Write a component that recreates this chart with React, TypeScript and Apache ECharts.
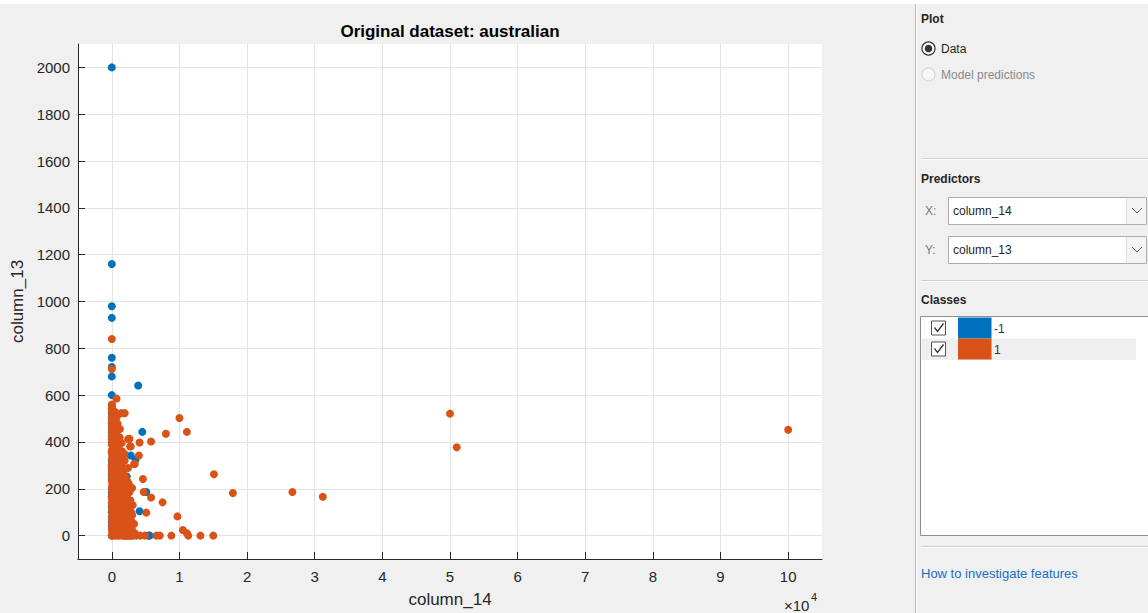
import React, { useEffect, useRef } from "react";
import * as echarts from "echarts";

// column_14 (x) and column_13 (y) per class
const classNeg1: [number, number][] = [
  [0, 2000], [0, 1160], [0, 980], [0, 930], [0, 760], [0, 720], [0, 680], [0, 600], [0, 558], [0, 545],
  [0, 520], [0, 500], [0, 480], [0, 460], [0, 440], [0, 400], [0, 360], [0, 320], [0, 300], [0, 280],
  [0, 260], [0, 240], [0, 200], [0, 180], [0, 168], [0, 140], [0, 120], [0, 100], [0, 80], [0, 60],
  [0, 40], [0, 0],
  [3900, 641], [4500, 443], [2800, 342], [3500, 324], [2200, 253], [2400, 217], [5100, 186], [4100, 104],
  [5400, 0], [5600, 0], [300, 500], [600, 420], [800, 300], [1000, 220], [1200, 160], [700, 80],
  [1500, 40], [2000, 0], [1800, 120], [900, 380], [400, 140], [1300, 260],
];

const class1Outliers: [number, number][] = [
  [100000, 452], [50000, 521], [51000, 377], [31200, 166], [26700, 186], [17900, 182], [15100, 262],
  [10000, 502], [11100, 443], [8000, 435], [5800, 402], [4100, 398], [2600, 414], [2800, 381],
  [4000, 342], [3300, 306], [4600, 242], [2500, 222], [3000, 203], [4700, 186], [5800, 163],
  [7500, 142], [3100, 130], [5100, 98], [2900, 97], [9700, 82], [3000, 87], [10500, 24], [11100, 10],
  [1900, 0], [3600, 0], [4900, 0], [6600, 0], [7100, 0], [8800, 0], [11300, 0], [13100, 0], [15000, 0],
  [3000, 0], [2500, 0], [4200, 0],
  [0, 840], [0, 712], [700, 585], [0, 560], [1400, 523], [1900, 523], [1200, 455], [2400, 412],
  [2700, 381], [2400, 289], [3400, 306],
];

const class1Cluster: [number, number][] = [
  [0, 0], [100, 12], [0, 25], [200, 38], [0, 50], [100, 62], [0, 75], [200, 88], [0, 100], [100, 112],
  [0, 125], [0, 140], [200, 150], [0, 160], [100, 172], [0, 185], [200, 196], [0, 208], [100, 220],
  [0, 232], [0, 244], [200, 256], [0, 268], [100, 280], [0, 292], [0, 304], [200, 316], [0, 328],
  [100, 340], [0, 352], [0, 364], [200, 376], [0, 388], [100, 400], [0, 412], [0, 424], [200, 436],
  [0, 448], [100, 460], [0, 472], [0, 484], [200, 496], [0, 508], [100, 520], [0, 532], [0, 544],
  [400, 0], [350, 22], [450, 44], [300, 66], [500, 88], [400, 110], [350, 132], [450, 154], [300, 176],
  [500, 198], [400, 220], [350, 242], [450, 264], [300, 286], [500, 308], [400, 330], [350, 352],
  [450, 374], [300, 396], [500, 418], [400, 440], [350, 462], [450, 484], [300, 506], [500, 528],
  [800, 0], [700, 25], [900, 50], [750, 75], [850, 100], [700, 125], [900, 150], [800, 175], [750, 200],
  [850, 225], [700, 250], [900, 275], [800, 300], [750, 325], [850, 350], [700, 375], [900, 400],
  [800, 425], [750, 450], [850, 478], [700, 505],
  [1100, 0], [1000, 30], [1200, 60], [1050, 90], [1150, 120], [1000, 150], [1200, 180], [1100, 210],
  [1050, 240], [1150, 270], [1000, 300], [1200, 330], [1100, 360], [1050, 390], [1150, 420],
  [1500, 0], [1400, 30], [1600, 60], [1450, 90], [1550, 120], [1400, 150], [1600, 180], [1500, 210],
  [1450, 240], [1550, 270], [1400, 300], [1600, 330], [1500, 360], [1450, 395],
  [1900, 0], [1800, 28], [2000, 56], [1850, 84], [1950, 112], [1800, 140], [2000, 168], [1900, 196],
  [1850, 224], [1950, 252], [1800, 285], [1900, 320], [1850, 350],
  [2300, 0], [2200, 30], [2400, 60], [2250, 95], [2350, 130], [2200, 165], [2400, 200], [2300, 232],
  [2700, 0], [2600, 35], [2800, 70], [2650, 110], [2750, 150], [2600, 185],
  [3100, 0], [3000, 25], [3300, 50], [3400, 10],
];

const xTicks = [0, 10000, 20000, 30000, 40000, 50000, 60000, 70000, 80000, 90000, 100000];
const yTicks = [0, 200, 400, 600, 800, 1000, 1200, 1400, 1600, 1800, 2000];
const classNames = ["-1", "1"];
const classColors = ["#0072BD", "#D95319"];

const FONT = "'Liberation Sans', Arial, Helvetica, sans-serif";
const AX = "#262626";

function panelGraphics(): any[] {
  const g: any[] = [];
  const txt = (x: number, y: number, text: string, o: any = {}) => ({
    type: "text", x, y, silent: true,
    style: { text, fontFamily: FONT, fontSize: 12, fill: "#262626", verticalAlign: "middle", ...o },
  });
  const line = (x1: number, y1: number, x2: number, y2: number, stroke: string) => ({
    type: "line", silent: true, shape: { x1, y1, x2, y2 }, style: { stroke, lineWidth: 1 },
  });
  const rect = (x: number, y: number, w: number, h: number, style: any) => ({
    type: "rect", silent: true, shape: { x, y, width: w, height: h }, style,
  });
  g.push(rect(0, 0, 1148, 4, { fill: "#ffffff" }));
  g.push(line(915.5, 4, 915.5, 613, "#b9b9b9"));
  g.push(line(916.5, 4, 916.5, 613, "#ffffff"));
  // Plot section
  g.push(txt(921, 19, "Plot", { fontWeight: "bold" }));
  g.push({ type: "circle", silent: true, shape: { cx: 928.5, cy: 48.5, r: 6.5 }, style: { fill: "#ffffff", stroke: "#333333", lineWidth: 1.2 } });
  g.push({ type: "circle", silent: true, shape: { cx: 928.5, cy: 48.5, r: 3.8 }, style: { fill: "#333333" } });
  g.push(txt(941, 49, "Data"));
  g.push({ type: "circle", silent: true, shape: { cx: 928.5, cy: 74.5, r: 6.5 }, style: { fill: "#f7f7f7", stroke: "#cfcfcf", lineWidth: 1 } });
  g.push(txt(941, 75, "Model predictions", { fill: "#8a8a8a" }));
  // separators
  for (const y of [158.5, 280.5, 546.5]) {
    g.push(line(921, y, 1148, y, "#cfcfcf"));
    g.push(line(921, y + 1, 1148, y + 1, "#ffffff"));
  }
  // Predictors
  g.push(txt(921, 179, "Predictors", { fontWeight: "bold" }));
  const drop = (y: number, label: string, val: string) => {
    g.push(txt(925, y + 14, label, { fill: "#7a7a7a" }));
    g.push(rect(948.5, y + 0.5, 198, 27, { fill: "#ffffff", stroke: "#abadb3", lineWidth: 1 }));
    g.push(rect(1127, y + 1, 19, 26, { fill: "#f4f4f4" }));
    g.push(line(1126.5, y + 1, 1126.5, y + 27, "#e2e2e2"));
    g.push({ type: "polyline", silent: true, shape: { points: [[1132, y + 11], [1137, y + 16], [1142, y + 11]] }, style: { stroke: "#606060", lineWidth: 1, fill: null } });
    g.push(txt(953, y + 14, val));
  };
  drop(197, "X:", "column_14");
  drop(236, "Y:", "column_13");
  // Classes
  g.push(txt(921, 300, "Classes", { fontWeight: "bold" }));
  g.push(rect(920.5, 316.5, 230, 219, { fill: "#ffffff", stroke: "#8f8f8f", lineWidth: 1 }));
  g.push(rect(921.5, 338.5, 214.5, 21.5, { fill: "#efefef" }));
  classNames.forEach((name, i) => {
    const top = 317.5 + i * 21;
    g.push(rect(931.5, top + 3.5, 14, 14, { fill: "#ffffff", stroke: "#555555", lineWidth: 1 }));
    g.push({ type: "polyline", silent: true, shape: { points: [[934.5, top + 10], [937.5, top + 14], [943.5, top + 6]] }, style: { stroke: "#333333", lineWidth: 1.3, fill: null } });
    g.push(rect(958, top, 33.5, 21, { fill: classColors[i] }));
    g.push(txt(994, top + 11, name, { fill: "#333333" }));
  });
  g.push(txt(921, 573, "How to investigate features", { fill: "#1a6dc9", fontSize: 13 }));
  // title and exponent
  g.push(txt(450, 31, "Original dataset: australian", { fontWeight: "bold", fontSize: 17, fill: "#000000", align: "center" }));
  g.push(txt(784, 605, "×10", { fontSize: 15, fill: AX }));
  g.push(txt(811, 597, "4", { fontSize: 11, fill: AX }));
  return g;
}

export default function App() {
  const ref = useRef<HTMLDivElement>(null);
  useEffect(() => {
    document.body.style.margin = "0";
    const chart = echarts.init(ref.current!, null, { renderer: "svg" });
    chart.setOption({
      animation: false,
      backgroundColor: "#f0f0f0",
      textStyle: { fontFamily: FONT },
      grid: { left: 78, top: 44, width: 744, height: 515, show: true, backgroundColor: "#ffffff", borderWidth: 0 },
      xAxis: {
        type: "value", min: -5000, max: 105000,
        name: "column_14", nameLocation: "middle", nameGap: 32,
        nameTextStyle: { fontSize: 17, color: AX, fontFamily: FONT },
        axisLine: { show: true, onZero: false, lineStyle: { color: AX, width: 1 } },
        axisTick: { show: true, inside: true, length: 7, customValues: xTicks, lineStyle: { color: AX } },
        axisLabel: { customValues: xTicks, formatter: (v: number) => String(v / 10000), color: AX, fontSize: 15, margin: 10, fontFamily: FONT },
        splitLine: { show: true, lineStyle: { color: "#e3e3e3", width: 1 } },
      },
      yAxis: {
        type: "value", min: -100, max: 2100,
        name: "column_13", nameLocation: "middle", nameGap: 49,
        nameTextStyle: { fontSize: 17, color: AX, fontFamily: FONT },
        axisLine: { show: true, onZero: false, lineStyle: { color: AX, width: 1 } },
        axisTick: { show: true, inside: true, length: 7, customValues: yTicks, lineStyle: { color: AX } },
        axisLabel: { customValues: yTicks, formatter: (v: number) => String(v), color: AX, fontSize: 15, margin: 8, fontFamily: FONT },
        splitLine: { show: true, lineStyle: { color: "#e3e3e3", width: 1 } },
      },
      series: [
        { name: classNames[0], type: "scatter", symbol: "circle", symbolSize: 8, data: classNeg1, itemStyle: { color: classColors[0], opacity: 1 }, clip: false },
        { name: classNames[1], type: "scatter", symbol: "circle", symbolSize: 8, data: [...class1Cluster, ...class1Outliers], itemStyle: { color: classColors[1], opacity: 1 }, clip: false },
      ],
      graphic: panelGraphics(),
    });
    return () => chart.dispose();
  }, []);
  return <div ref={ref} style={{ position: "absolute", left: 0, top: 0, width: 1148, height: 613 }} />;
}
